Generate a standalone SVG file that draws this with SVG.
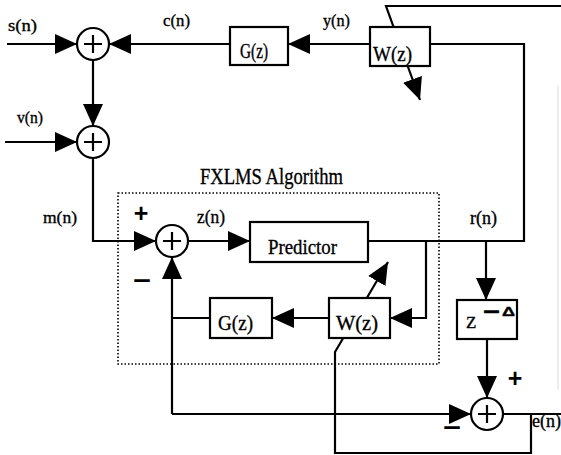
<svg xmlns="http://www.w3.org/2000/svg" width="561" height="455" viewBox="0 0 561 455">
<defs>
<style>
.ln{fill:none;stroke:#000;stroke-width:2.2;stroke-linejoin:miter}
.box{fill:#fff;stroke:#000;stroke-width:2.2}
.sum{fill:#fff;stroke:#000;stroke-width:2.2}
.cross{stroke:#000;stroke-width:2.2}
.t{font-family:"Liberation Serif","Times New Roman",serif;fill:#000;stroke:#000;stroke-width:0.35}
.s{font-family:"Liberation Sans",Arial,sans-serif;fill:#000}
.arr{marker-end:url(#ah)}
</style>
<marker id="ah" markerUnits="userSpaceOnUse" markerWidth="23" markerHeight="20" refX="22" refY="10" orient="auto">
<path d="M0,0 L22,10 L0,20 Z" fill="#000"/>
</marker>
</defs>
<rect width="561" height="455" fill="#fff"/>

<g id="fxlms-frame">
<rect x="118" y="193" width="321" height="171" fill="none" stroke="#000" stroke-width="1.6" stroke-dasharray="1.5 2"/>
<text class="t" x="200" y="184" font-size="23" textLength="143" lengthAdjust="spacingAndGlyphs">FXLMS  Algorithm</text>
</g>

<g id="connectors">
<line class="ln arr" x1="7" y1="44" x2="77" y2="44"/>
<line class="ln arr" x1="230" y1="44" x2="109" y2="44"/>
<line class="ln arr" x1="370" y1="44" x2="288" y2="44"/>
<line class="ln arr" x1="93" y1="60" x2="93" y2="126"/>
<line class="ln arr" x1="5" y1="142" x2="77" y2="142"/>
<polyline class="ln arr" points="93,158 93,241 156,241"/>
<line class="ln arr" x1="188" y1="241" x2="250" y2="241"/>
<polyline class="ln" points="368,241 524,241 524,44 430,44"/>
<polyline class="ln arr" points="426,241 426,318 390,318"/>
<line class="ln arr" x1="329" y1="318" x2="272" y2="318"/>
<line class="ln" x1="210" y1="318" x2="172" y2="318"/>
<line class="ln arr" x1="172" y1="414" x2="172" y2="257"/>
<line class="ln arr" x1="172" y1="414" x2="471" y2="414"/>
<line class="ln arr" x1="486" y1="241" x2="486" y2="300"/>
<line class="ln arr" x1="487" y1="339" x2="487" y2="398"/>
<line class="ln" x1="503" y1="414" x2="561" y2="414"/>
<polyline class="ln arr" points="531,414 531,453 335,453 335,352 388,262"/>
<polyline class="ln arr" points="561,6 386,6 420,100"/>
</g>

<g id="sum1"><circle class="sum" cx="93" cy="44" r="16"/><path class="cross" d="M84,44H102M93,35V53"/></g>
<g id="sum2"><circle class="sum" cx="93" cy="142" r="16"/><path class="cross" d="M84,142H102M93,133V151"/></g>
<g id="sum3"><circle class="sum" cx="172" cy="241" r="16"/><path class="cross" d="M163,241H181M172,232V250"/></g>
<g id="sum4"><circle class="sum" cx="487" cy="414" r="16"/><path class="cross" d="M478,414H496M487,405V423"/></g>

<g id="G-top"><rect class="box" x="230" y="27" width="58" height="38"/><text class="t" x="240" y="58" font-size="20" textLength="28" lengthAdjust="spacingAndGlyphs">G(z)</text></g>
<g id="W-top"><rect class="box" x="370" y="27" width="60" height="39"/><text class="t" x="373" y="61" font-size="20" textLength="39" lengthAdjust="spacingAndGlyphs">W(z)</text></g>
<g id="predictor"><rect class="box" x="250" y="222" width="118" height="40"/><text class="t" x="268" y="254" font-size="22" textLength="69" lengthAdjust="spacingAndGlyphs">Predictor</text></g>
<g id="G-low"><rect class="box" x="210" y="298" width="62" height="40"/><text class="t" x="218" y="330" font-size="22" textLength="35" lengthAdjust="spacingAndGlyphs">G(z)</text></g>
<g id="W-low"><rect class="box" x="329" y="298" width="61" height="40"/><text class="t" x="336" y="330" font-size="21" textLength="42" lengthAdjust="spacingAndGlyphs">W(z)</text></g>
<g id="delay"><rect class="box" x="457" y="300" width="60" height="39"/>
<text class="t" x="466" y="328" font-size="17">Z<tspan class="s" x="483" y="319" font-size="22" font-weight="bold" textLength="17" lengthAdjust="spacingAndGlyphs">−</tspan><tspan class="s" x="502" y="316" font-size="13" font-weight="bold" textLength="13" lengthAdjust="spacingAndGlyphs">Δ</tspan></text></g>

<g id="labels">
<text class="t" x="8" y="31" font-size="17" textLength="29" lengthAdjust="spacingAndGlyphs">s(n)</text>
<text class="t" x="163" y="26" font-size="17" textLength="27" lengthAdjust="spacingAndGlyphs">c(n)</text>
<text class="t" x="323" y="26" font-size="17" textLength="27" lengthAdjust="spacingAndGlyphs">y(n)</text>
<text class="t" x="17" y="123" font-size="17" textLength="26" lengthAdjust="spacingAndGlyphs">v(n)</text>
<text class="t" x="43" y="223" font-size="17" textLength="34" lengthAdjust="spacingAndGlyphs">m(n)</text>
<text class="t" x="197" y="223" font-size="19" textLength="28" lengthAdjust="spacingAndGlyphs">z(n)</text>
<text class="t" x="470" y="224" font-size="18" textLength="27" lengthAdjust="spacingAndGlyphs">r(n)</text>
<text class="t" x="532" y="427" font-size="18" textLength="29" lengthAdjust="spacingAndGlyphs">e(n)</text>
<text class="s" x="141" y="222" font-size="25" font-weight="bold" text-anchor="middle">+</text>
<text class="s" x="133" y="289" font-size="25" font-weight="bold" textLength="18" lengthAdjust="spacingAndGlyphs">−</text>
<text class="s" x="515" y="387" font-size="25" font-weight="bold" text-anchor="middle">+</text>
<text class="s" x="443" y="436" font-size="25" font-weight="bold" textLength="18" lengthAdjust="spacingAndGlyphs">−</text>
</g>
<line x1="558" y1="85" x2="558" y2="390" stroke="#ddd" stroke-width="1"/>
</svg>
